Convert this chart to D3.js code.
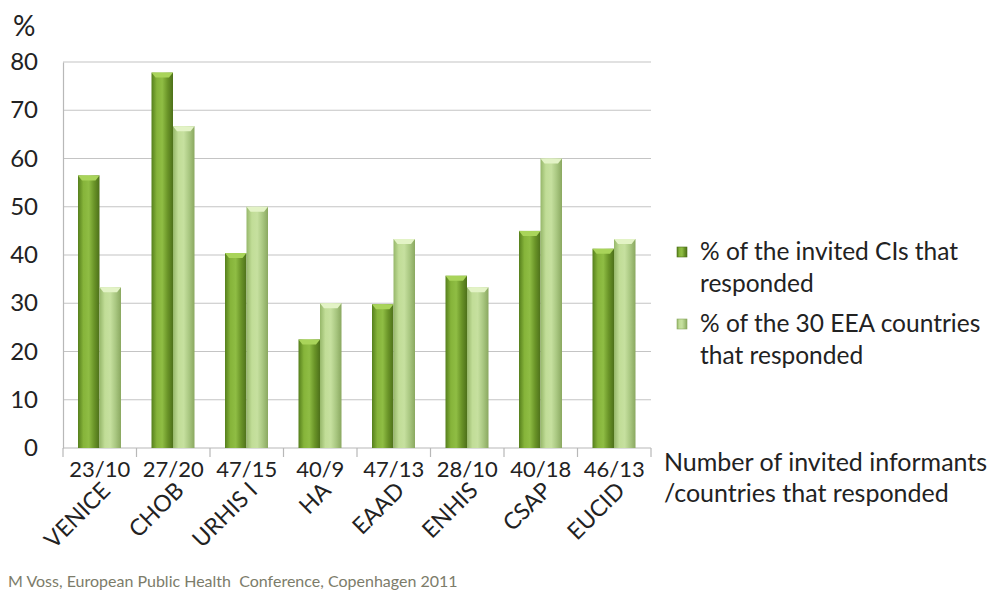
<!DOCTYPE html>
<html>
<head>
<meta charset="utf-8">
<script src="https://cdn.jsdelivr.net/npm/d3@7"></script>
<style>
  body { margin: 0; background: #fff; }
  svg { font-family: Lato, 'Open Sans', sans-serif; }
</style>
</head>
<body>
<svg id="chart" width="995" height="594"></svg>
<script>
const names = ['VENICE', 'CHOB', 'URHIS I', 'HA', 'EAAD', 'ENHIS', 'CSAP', 'EUCID'];
const counts = ['23/10', '27/20', '47/15', '40/9', '47/13', '28/10', '40/18', '46/13'];
const invitedPct = [56.5, 77.8, 40.4, 22.5, 29.8, 35.7, 45, 41.3];
const countryPct = [33.3, 66.7, 50, 30, 43.3, 33.3, 60, 43.3];
const seriesNames = [
  ['% of the invited CIs that', 'responded'],
  ['% of the 30 EEA countries', 'that responded']
];
const yTicks = [0, 10, 20, 30, 40, 50, 60, 70, 80];

const svg = d3.select('#chart');
const plotLeft = 63, plotRight = 651, plotTop = 62, plotBottom = 448;

const x = d3.scaleBand().domain(names).range([plotLeft, plotRight]);
const y = d3.scaleLinear().domain([0, 80]).range([plotBottom, plotTop]);
const inner = d3.scaleBand().domain([0, 1]).range([15, 58]);

const defs = svg.append('defs');
const grads = [
  ['dark', ['#557f1c', '#86b43a', '#8fbd44', '#6a9428', '#4d701a']],
  ['light', ['#96b76a', '#c1dd97', '#c6e09f', '#a9c781', '#8aa860']]
];
grads.forEach(([id, stops]) => {
  const g = defs.append('linearGradient').attr('id', id).attr('x1', 0).attr('x2', 1).attr('y1', 0).attr('y2', 0);
  stops.forEach((c, i) => g.append('stop').attr('offset', i / (stops.length - 1)).attr('stop-color', c));
});
const capColors = ['#a9d45a', '#e3f3c6'];

// gridlines
svg.append('g')
  .selectAll('line')
  .data(yTicks.slice(1))
  .join('line')
  .attr('x1', plotLeft)
  .attr('x2', plotRight)
  .attr('y1', d => y(d))
  .attr('y2', d => y(d))
  .attr('stroke', '#c4c4c4')
  .attr('stroke-width', 1.2);

// y axis
const yAxis = svg.append('g').attr('transform', `translate(${plotLeft},0)`)
  .call(d3.axisLeft(y).tickValues(yTicks).tickSize(0).tickPadding(25));
yAxis.select('.domain').attr('stroke', '#b8b8b8').attr('stroke-width', 1.2);
yAxis.selectAll('.tick text').attr('font-size', 24).attr('fill', '#222').attr('font-family', 'Lato, sans-serif');

// x axis
const xAxis = svg.append('g').attr('transform', `translate(0,${plotBottom})`);
xAxis.append('line').attr('x1', plotLeft).attr('x2', plotRight).attr('stroke', '#b8b8b8').attr('stroke-width', 1.2);
xAxis.selectAll('.tk')
  .data(names.concat(['end']))
  .join('line')
  .attr('class', 'tk')
  .attr('x1', (d, i) => plotLeft + i * x.bandwidth())
  .attr('x2', (d, i) => plotLeft + i * x.bandwidth())
  .attr('y1', 0)
  .attr('y2', 9)
  .attr('stroke', '#b8b8b8')
  .attr('stroke-width', 1.2);

// bars
const series = [invitedPct, countryPct];
series.forEach((vals, s) => {
  const g = svg.append('g');
  g.selectAll('rect.bar')
    .data(vals)
    .join('rect')
    .attr('class', 'bar')
    .attr('x', (d, i) => x(names[i]) + inner(s))
    .attr('width', inner.bandwidth())
    .attr('y', d => y(d))
    .attr('height', d => plotBottom - y(d))
    .attr('fill', `url(#${s === 0 ? 'dark' : 'light'})`);
  g.selectAll('path.cap')
    .data(vals)
    .join('path')
    .attr('class', 'cap')
    .attr('d', (d, i) => {
      const x0 = x(names[i]) + inner(s), w = inner.bandwidth(), y0 = y(d);
      return `M${x0},${y0}L${x0 + w},${y0}L${x0 + w - 4},${y0 + 5}L${x0 + 4},${y0 + 5}Z`;
    })
    .attr('fill', capColors[s]);
});

// count labels
svg.append('g')
  .selectAll('text')
  .data(counts)
  .join('text')
  .attr('x', (d, i) => x(names[i]) + x.bandwidth() / 2)
  .attr('y', 477)
  .attr('text-anchor', 'middle')
  .attr('font-size', 22)
  .attr('fill', '#222')
  .text(d => d);

// rotated names
svg.append('g')
  .selectAll('text')
  .data(names)
  .join('text')
  .attr('transform', d => `translate(${x(d) + x.bandwidth() / 2 + 12},${492}) rotate(-45)`)
  .attr('text-anchor', 'end')
  .attr('font-size', 23)
  .attr('fill', '#222')
  .text(d => d);

// % label
svg.append('text').attr('x', 13).attr('y', 36).attr('font-size', 28).attr('fill', '#222').text('%');

// legend
const legendColors = ['url(#dark)', 'url(#light)'];
const legend = svg.append('g');
seriesNames.forEach((lines, i) => {
  const base = 260 + i * 72;
  legend.append('rect').attr('x', 677).attr('y', base - 13).attr('width', 10).attr('height', 10)
    .attr('fill', legendColors[i]).attr('stroke', i === 0 ? '#4d701a' : '#8aa860').attr('stroke-width', 0.6);
  lines.forEach((t, j) => {
    legend.append('text').attr('x', 700).attr('y', base + j * 32)
      .attr('font-size', 24.5).attr('fill', '#222').text(t);
  });
});

// x axis title
svg.append('text').attr('x', 664).attr('y', 471).attr('font-size', 25).attr('fill', '#222').text('Number of invited informants');
svg.append('text').attr('x', 664).attr('y', 502).attr('font-size', 25).attr('fill', '#222').text('/countries that responded');

// footer
svg.append('text').attr('x', 8).attr('y', 587).attr('font-size', 16).attr('fill', '#7c7c6a')
  .style('white-space', 'pre')
  .text('M Voss, European Public Health  Conference, Copenhagen 2011');
</script>
</body>
</html>
